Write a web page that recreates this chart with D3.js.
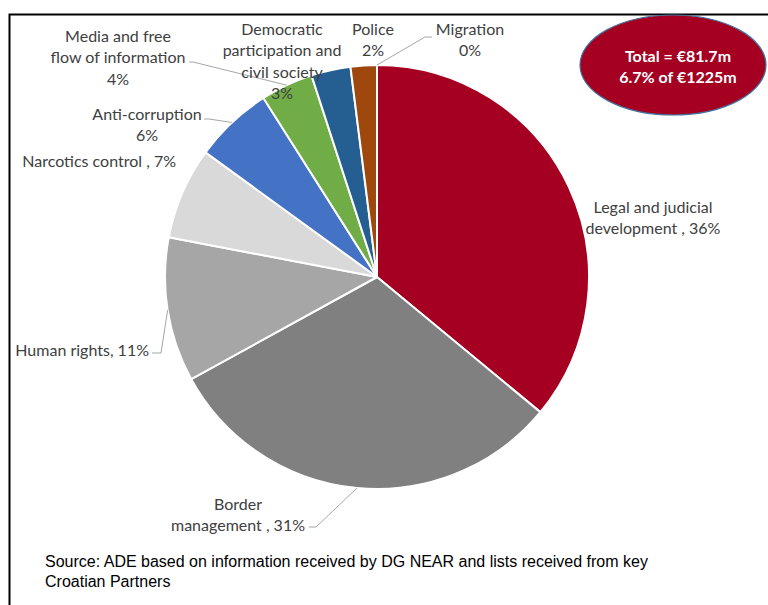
<!DOCTYPE html>
<html>
<head>
<meta charset="utf-8">
<script src="https://cdn.jsdelivr.net/npm/d3@7/dist/d3.min.js"></script>
<style>
  html, body { margin: 0; padding: 0; background: #fff; }
  svg { display: block; }
</style>
</head>
<body>
<svg id="chart" width="768" height="605"></svg>
<script>
// Sector shares of EU support (percent of €81.7m)
const categories = [
  "Legal and judicial development",
  "Border management",
  "Human rights",
  "Narcotics control",
  "Anti-corruption",
  "Media and free flow of information",
  "Democratic participation and civil society",
  "Police",
  "Migration"
];
const values = [36, 31, 11, 7, 6, 4, 3, 2, 0];
const colors = ["#A50021", "#808080", "#A6A6A6", "#D9D9D9", "#4472C4", "#70AD47", "#255E91", "#9E480E", "#F0A030"];

// Label text lines for each category
const labelLines = [
  ["Legal and judicial", "development , 36%"],
  ["Border", "management , 31%"],
  ["Human rights, 11%"],
  ["Narcotics control , 7%"],
  ["Anti-corruption", "6%"],
  ["Media and free", "flow of information", "4%"],
  ["Democratic", "participation and", "civil society", "3%"],
  ["Police", "2%"],
  ["Migration", "0%"]
];

const totalLines = ["Total = €81.7m", "6.7% of €1225m"];
const sourceLines = [
  "Source: ADE based on information received by DG NEAR and lists received from key",
  "Croatian Partners"
];

// ---- layout ----
const svg = d3.select("#chart");
const cx = 377, cy = 277, R = 212;

// label placement: x, first baseline, anchor; leader: start + elbow (or null)
const labelLayout = {
  "Legal and judicial development": { x: 653, y: 213, anchor: "middle", leader: null },
  "Border management": { x: 238, y: 510, anchor: "middle", leader: [[309, 527], [316, 527]] },
  "Human rights": { x: 149, y: 356, anchor: "end", leader: [[152, 353], [161, 353]] },
  "Narcotics control": { x: 176, y: 167, anchor: "end", leader: null },
  "Anti-corruption": { x: 147, y: 120, anchor: "middle", leader: [[204, 119], [209, 119]] },
  "Media and free flow of information": { x: 118, y: 42, anchor: "middle", leader: [[189, 62], [193, 62]] },
  "Democratic participation and civil society": { x: 282, y: 35, anchor: "middle", leader: null },
  "Police": { x: 373, y: 35, anchor: "middle", leader: null },
  "Migration": { x: 470, y: 35, anchor: "middle", leader: [[432, 37], [425, 37]] }
};
const lineGap = 21.3;

// frame (top and left rule)
svg.append("path")
  .attr("d", "M9.5,605 L9.5,14.5 L768,14.5")
  .attr("fill", "none")
  .attr("stroke", "#000")
  .attr("stroke-width", 2);

const pie = d3.pie().sort(null).value(d => d.value)
  .startAngle(0).endAngle(2 * Math.PI);
const data = categories.map((c, i) => ({ name: c, value: values[i], color: colors[i], lines: labelLines[i] }));
const arcs = pie(data);
const arc = d3.arc().innerRadius(0).outerRadius(R);

const g = svg.append("g").attr("transform", `translate(${cx},${cy})`);
g.selectAll("path.slice")
  .data(arcs.filter(a => a.endAngle > a.startAngle))
  .join("path")
  .attr("class", "slice")
  .attr("d", arc)
  .attr("fill", d => d.data.color)
  .attr("stroke", "#fff")
  .attr("stroke-width", 2)
  .attr("stroke-linejoin", "round");

// leader lines to the slice mid-angle on the rim
const rimPoint = a => {
  const m = (a.startAngle + a.endAngle) / 2;
  return [cx + R * Math.sin(m), cy - R * Math.cos(m)];
};
arcs.forEach(a => {
  const lay = labelLayout[a.data.name];
  if (!lay.leader) return;
  const pts = lay.leader.concat([rimPoint(a)]);
  svg.append("path")
    .attr("d", d3.line()(pts))
    .attr("fill", "none")
    .attr("stroke", "#A6A6A6")
    .attr("stroke-width", 1);
});

// data labels
const labelFont = "Lato, 'Open Sans', sans-serif";
arcs.forEach(a => {
  const lay = labelLayout[a.data.name];
  const t = svg.append("text")
    .attr("font-family", labelFont)
    .attr("font-size", 16)
    .attr("fill", "#404040")
    .attr("text-anchor", lay.anchor);
  a.data.lines.forEach((ln, j) => {
    t.append("tspan").attr("x", lay.x).attr("y", lay.y + j * lineGap).text(ln);
  });
});

// total callout
svg.append("ellipse")
  .attr("cx", 673).attr("cy", 65).attr("rx", 93).attr("ry", 50)
  .attr("fill", "#A50021")
  .attr("stroke", "#41719C")
  .attr("stroke-width", 1.2);
const tt = svg.append("text")
  .attr("font-family", labelFont)
  .attr("font-weight", "bold")
  .attr("font-size", 16)
  .attr("fill", "#fff")
  .attr("text-anchor", "middle");
totalLines.forEach((ln, j) => {
  tt.append("tspan").attr("x", 678).attr("y", 62 + j * 21).text(ln);
});

// source note
const st = svg.append("text")
  .attr("font-family", "'Liberation Sans', Arial, sans-serif")
  .attr("font-size", 16)
  .attr("fill", "#000");
sourceLines.forEach((ln, j) => {
  st.append("tspan").attr("x", 45).attr("y", 567 + j * 20).text(ln);
});
</script>
</body>
</html>
